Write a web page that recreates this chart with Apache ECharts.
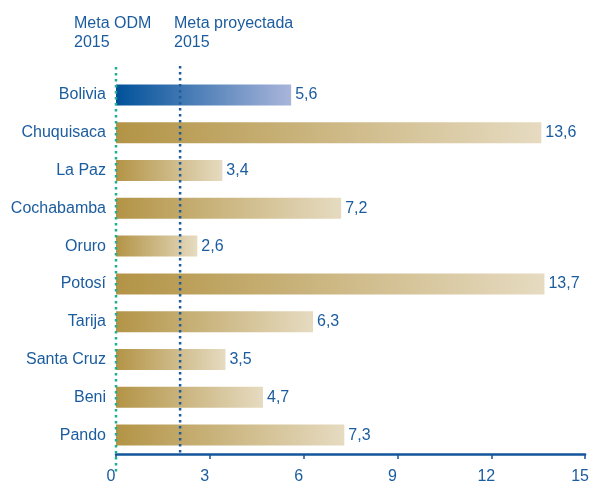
<!DOCTYPE html>
<html><head><meta charset="utf-8">
<script src="https://cdn.jsdelivr.net/npm/echarts@6/dist/echarts.min.js"></script>
<style>html,body{margin:0;padding:0;background:#fff}#c{width:592px;height:485px}</style>
</head><body><div id="c"></div>
<script>
var categories = ['Bolivia','Chuquisaca','La Paz','Cochabamba','Oruro','Potosí','Tarija','Santa Cruz','Beni','Pando'];
var values = [5.6, 13.6, 3.4, 7.2, 2.6, 13.7, 6.3, 3.5, 4.7, 7.3];
var valueLabels = ['5,6','13,6','3,4','7,2','2,6','13,7','6,3','3,5','4,7','7,3'];
var xTicks = [0, 3, 6, 9, 12, 15];
var metaODM = 0;
var metaProyectada = 2.05;
var goalTitles = ['Meta ODM\n2015', 'Meta proyectada\n2015'];

var blue = '#1b5c9e';
var font = 'Liberation Sans';
var fs = 16;
var gold = new echarts.graphic.LinearGradient(0,0,1,0,[{offset:0,color:'#b39446'},{offset:1,color:'#e6dbc1'}]);
var navy = new echarts.graphic.LinearGradient(0,0,1,0,[{offset:0,color:'#00519a'},{offset:1,color:'#a9b5da'}]);

var chart = echarts.init(document.getElementById('c'));
var data = values.map(function(v,i){
  return {value: v, itemStyle: {color: i === 0 ? navy : gold}};
});
chart.setOption({
  animation: false,
  textStyle: {fontFamily: font},
  grid: {left: 116, right: 4, top: 76, bottom: 29, containLabel: false},
  xAxis: {
    type: 'value', min: xTicks[0], max: xTicks[xTicks.length-1], interval: 3,
    axisLine: {show: true, lineStyle: {color: '#14569c', width: 2.5}},
    axisTick: {show: true, inside: false, length: 5, lineStyle: {color: '#14569c', width: 1.5}},
    axisLabel: {color: blue, fontSize: fs, fontFamily: font, margin: 15, padding: [0, 10, 0, 0]},
    splitLine: {show: false}
  },
  yAxis: {
    type: 'category', data: categories, inverse: true,
    axisLine: {show: false}, axisTick: {show: false},
    axisLabel: {color: blue, fontSize: fs, fontFamily: font, margin: 10}
  },
  series: [{
    type: 'bar', data: data, barWidth: 21,
    label: {show: true, position: 'right', distance: 4, color: blue, fontSize: fs, fontFamily: font,
      formatter: function(p){ return valueLabels[p.dataIndex]; }}
  }]
});

function place(){
  var x0 = chart.convertToPixel({xAxisIndex:0}, metaODM);
  var x1 = chart.convertToPixel({xAxisIndex:0}, metaProyectada);
  chart.setOption({graphic: [
    {type:'line', shape:{x1:x0, y1:67, x2:x0, y2:475}, z:10,
     style:{stroke:'#1fae8e', lineWidth:2.5, lineDash:[2.5,3.5]}},
    {type:'line', shape:{x1:x1, y1:66, x2:x1, y2:456}, z:10,
     style:{stroke:'#1d5d99', lineWidth:2.5, lineDash:[2.5,3.5]}},
    {type:'text', left: 74, top: 14, z:10,
     style:{text: goalTitles[0], fill: blue, fontSize: fs, fontFamily: font, lineHeight: 19}},
    {type:'text', left: 174, top: 14, z:10,
     style:{text: goalTitles[1], fill: blue, fontSize: fs, fontFamily: font, lineHeight: 19}}
  ]});
}
place();
</script></body></html>
